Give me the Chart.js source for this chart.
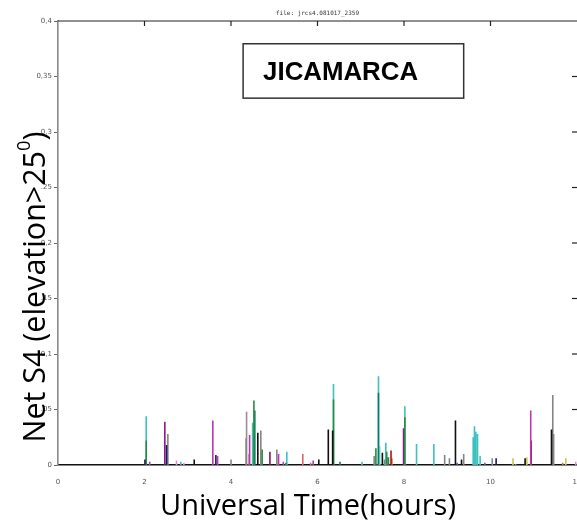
<!DOCTYPE html>
<html>
<head>
<meta charset="utf-8">
<script src="https://cdn.jsdelivr.net/npm/chart.js@4/dist/chart.umd.min.js"></script>
<style>
  html, body { margin: 0; padding: 0; background: #fff; }
  #wrap { width: 577px; height: 520px; }
</style>
</head>
<body>
<div id="wrap"><canvas id="s4chart" width="577" height="520"></canvas></div>
<script>
// tick labels
const xTickLabels = ['0', '2', '4', '6', '8', '10', '12'];
const yTickLabels = ['0', '.05', '0,1', '.15', '0,2', '.25', '0,3', '0,35', '0,4'];

// spikes per colour: hours and S4 values
const blackT  = [3.15, 4.62, 6.03, 6.25, 6.35, 6.85, 7.50, 9.19, 9.33, 10.80, 11.41];
const blackV  = [0.005, 0.029, 0.005, 0.032, 0.031, 0.001, 0.011, 0.040, 0.005, 0.006, 0.032];
const navyT   = [2.01, 2.51, 3.65, 10.13];
const navyV   = [0.005, 0.018, 0.009, 0.006];
const greenT  = [2.04, 4.53, 4.72, 5.27, 6.37, 7.35, 7.60, 7.64, 8.02];
const greenV  = [0.022, 0.058, 0.014, 0.002, 0.059, 0.015, 0.012, 0.007, 0.043];
const tealT   = [4.55, 6.52, 7.41];
const tealV   = [0.049, 0.003, 0.065];
const purpleT = [2.47, 7.99];
const purpleV = [0.039, 0.033];
const plumT   = [4.90];
const plumV   = [0.012];
const magentaT = [2.12, 3.58, 3.69, 4.43, 5.10, 5.21, 5.90, 10.93];
const magentaV = [0.003, 0.040, 0.008, 0.027, 0.010, 0.003, 0.004, 0.049];
const pinkT   = [2.74, 2.91, 11.97];
const pinkV   = [0.004, 0.002, 0.003];
const darkRedT = [7.70, 10.94];
const darkRedV = [0.013, 0.022];
const redT    = [4.42, 5.66, 5.84, 7.72, 11.67];
const redV    = [0.010, 0.010, 0.002, 0.006, 0.002];
const yellowT = [10.52, 10.84, 11.74];
const yellowV = [0.006, 0.007, 0.006];
const blueT   = [9.23, 9.87];
const blueV   = [0.002, 0.002];
const grayT   = [2.54, 4.00, 4.35, 4.69, 5.06, 7.31, 7.55, 8.94, 9.05, 9.38, 10.04, 10.58, 11.44, 11.46];
const grayV   = [0.028, 0.005, 0.024, 0.031, 0.014, 0.008, 0.005, 0.009, 0.006, 0.010, 0.006, 0.001, 0.063, 0.028];
const mauveT  = [4.36];
const mauveV  = [0.048];
const lightCyanT = [7.44];
const lightCyanV = [0.017];
const cyanT   = [2.04, 2.84, 4.50, 5.29, 6.37, 7.03, 7.41, 7.58, 8.02, 8.29, 8.69, 9.60, 9.63, 9.66, 9.70, 9.76];
const cyanV   = [0.044, 0.003, 0.038, 0.012, 0.073, 0.003, 0.080, 0.020, 0.053, 0.019, 0.019, 0.025, 0.035, 0.030, 0.028, 0.008];

// turn (t, v) lists into vertical stems from zero
function stems(ts, vs) {
  const pts = [];
  ts.forEach((t, i) => {
    pts.push({ x: t, y: 0 }, { x: t, y: vs[i] }, { x: t, y: null });
  });
  return pts;
}

function series(ts, vs, color) {
  return {
    data: stems(ts, vs),
    borderColor: color,
    borderWidth: 1.6,
    showLine: true,
    spanGaps: false,
    pointRadius: 0,
    fill: false
  };
}

// first dataset is painted on top
const datasets = [
  series(blackT, blackV, '#111111'),
  series(navyT, navyV, '#1c1c66'),
  series(greenT, greenV, '#2a8a3c'),
  series(tealT, tealV, '#047a6a'),
  series(plumT, plumV, '#8a1450'),
  series(purpleT, purpleV, '#8a1a8a'),
  series(magentaT, magentaV, '#b838b8'),
  series(pinkT, pinkV, '#e08ae0'),
  series(darkRedT, darkRedV, '#b01414'),
  series(redT, redV, '#e06464'),
  series(yellowT, yellowV, '#c8c850'),
  series(blueT, blueV, '#4a66d0'),
  series(grayT, grayV, '#858585'),
  series(mauveT, mauveV, '#9c8a9c'),
  series(lightCyanT, lightCyanV, '#8fd8d8'),
  series(cyanT, cyanV, '#3cc0c0')
];

// frame ticks on top and right, text overlays
const framePlugin = {
  id: 'frame',
  afterDraw(chart) {
    const ctx = chart.ctx;
    const a = chart.chartArea;
    const xs = chart.scales.x, ys = chart.scales.y;
    ctx.save();
    ctx.strokeStyle = '#222';
    ctx.lineWidth = 1.2;
    ctx.beginPath();
    ctx.moveTo(a.left, a.top);
    ctx.lineTo(a.right, a.top);
    ctx.stroke();
    xs.ticks.forEach(tk => {
      if (tk.value <= 0 || tk.value >= 12) return;
      const px = xs.getPixelForValue(tk.value);
      ctx.beginPath();
      ctx.moveTo(px, a.top);
      ctx.lineTo(px, a.top + 5);
      ctx.stroke();
    });
    ys.ticks.forEach(tk => {
      if (tk.value <= 0 || tk.value >= 0.4) return;
      const py = ys.getPixelForValue(tk.value);
      ctx.beginPath();
      ctx.moveTo(a.right, py);
      ctx.lineTo(a.right - 5, py);
      ctx.stroke();
    });

    // station box
    const bx0 = xs.getPixelForValue(4.28), bx1 = xs.getPixelForValue(9.38);
    const by0 = ys.getPixelForValue(0.3795), by1 = ys.getPixelForValue(0.3305);
    ctx.strokeStyle = '#333';
    ctx.lineWidth = 1.5;
    ctx.strokeRect(bx0, by0, bx1 - bx0, by1 - by0);
    ctx.fillStyle = '#000';
    const bfam = '"Liberation Sans", "Open Sans", sans-serif';
    ctx.font = 'bold 100px ' + bfam;
    const bsize = 100 * 155 / ctx.measureText('JICAMARCA').width;
    ctx.font = 'bold ' + bsize + 'px ' + bfam;
    ctx.textBaseline = 'middle';
    ctx.textAlign = 'left';
    ctx.fillText('JICAMARCA', bx0 + 20, (by0 + by1) / 2 + 2);

    // axis titles
    const fam = '"Open Sans", "Noto Sans", sans-serif';
    ctx.font = '100px ' + fam;
    const xt = 'Universal Time(hours)';
    const xsize = 100 * 296 / ctx.measureText(xt).width;
    ctx.font = xsize + 'px ' + fam;
    ctx.textAlign = 'center';
    ctx.fillText(xt, 308, 507);

    const main = 'Net S4 (elevation>25';
    ctx.font = '100px ' + fam;
    const rough = ctx.measureText(main + '0)').width;
    const ysize = 100 * 318 / rough;
    ctx.font = ysize + 'px ' + fam;
    const w1 = ctx.measureText(main).width;
    ctx.font = (ysize * 0.6) + 'px ' + fam;
    const w2 = ctx.measureText('0').width;
    ctx.font = ysize + 'px ' + fam;
    const w3 = ctx.measureText(')').width;
    const total = w1 + w2 + w3;
    ctx.translate(36, 287);
    ctx.rotate(-Math.PI / 2);
    ctx.textAlign = 'left';
    ctx.fillStyle = '#000';
    ctx.fillText(main, -total / 2, 0);
    ctx.font = (ysize * 0.6) + 'px ' + fam;
    ctx.fillText('0', -total / 2 + w1, -ysize * 0.38);
    ctx.font = ysize + 'px ' + fam;
    ctx.fillText(')', -total / 2 + w1 + w2, 0);
    ctx.restore();
  }
};

new Chart(document.getElementById('s4chart'), {
  type: 'scatter',
  data: { datasets: datasets },
  options: {
    responsive: false,
    animation: false,
    layout: { padding: { top: 0, right: 0, bottom: 0, left: 0 } },
    plugins: {
      legend: { display: false },
      tooltip: { enabled: false },
      title: {
        display: true,
        fullSize: false,
        text: 'file: jrcs4.081017_2359',
        color: '#333',
        font: { family: '"DejaVu Sans Mono", monospace', size: 6, weight: 'normal' },
        padding: { top: 10, bottom: 3.8 }
      }
    },
    scales: {
      x: {
        type: 'linear',
        min: 0,
        max: 12,
        afterFit(s) { s.height = 55; s.paddingRight = 0; s.paddingLeft = 0; },
        border: { display: true, color: '#111', width: 1.6 },
        grid: { display: false },
        ticks: {
          stepSize: 2,
          padding: 5,
          color: '#555',
          font: { family: '"DejaVu Sans", sans-serif', size: 7 },
          callback: (v) => xTickLabels[Math.round(v / 2)]
        }
      },
      y: {
        min: 0,
        max: 0.4,
        afterFit(s) { s.width = 58; s.paddingTop = 0; s.paddingBottom = 0; },
        border: { display: true, color: '#888', width: 1.6 },
        grid: { drawOnChartArea: false, tickLength: 4, color: '#666' },
        ticks: {
          stepSize: 0.05,
          padding: 2,
          color: '#555',
          font: { family: '"DejaVu Sans", sans-serif', size: 7 },
          callback: (v) => yTickLabels[Math.round(v / 0.05)]
        }
      }
    }
  },
  plugins: [framePlugin]
});
</script>
</body>
</html>
